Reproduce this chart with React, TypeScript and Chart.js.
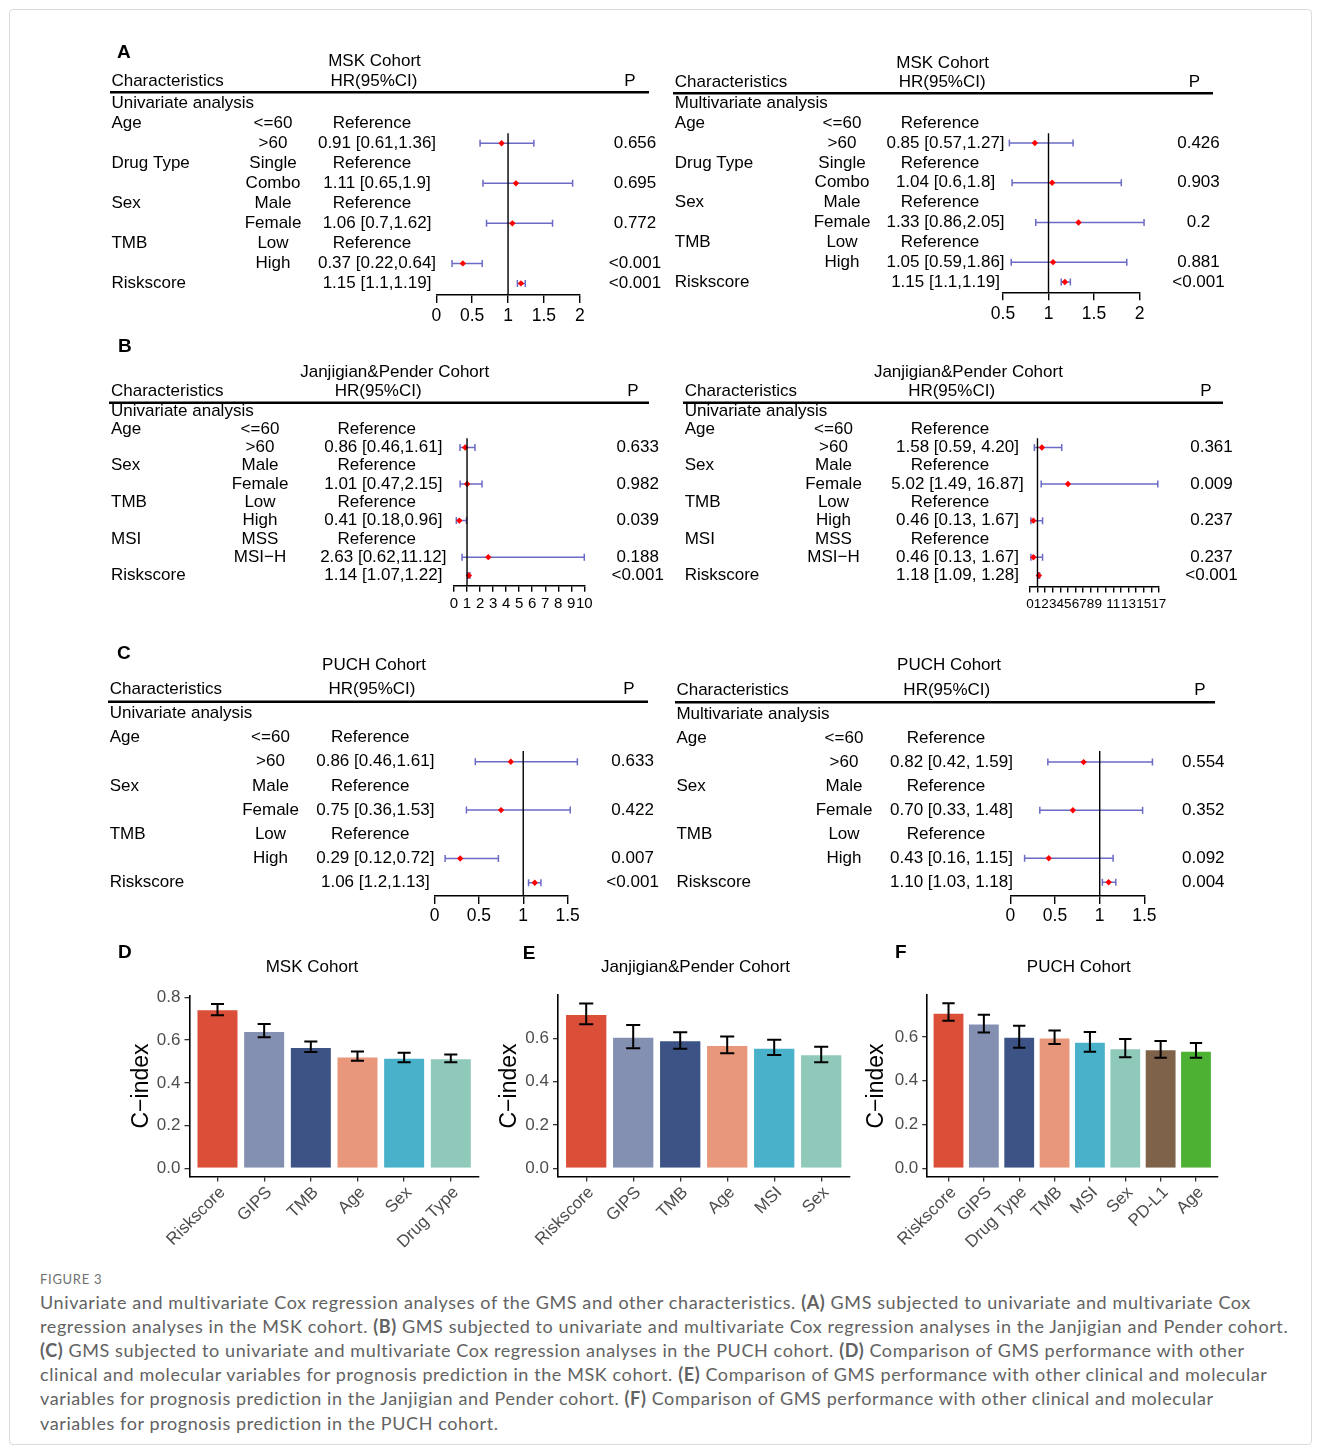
import React, { useEffect, useRef } from "react";
import { Chart, registerables } from "chart.js";

Chart.register(...registerables);

const FONT = '"Liberation Sans", Arial, Helvetica, sans-serif';
const CI_COLOR = "#6B6BC6";
const DOT_COLOR = "#FF0000";

// ================= Panel A : MSK cohort =================
const MSK_CHAR = ["Age", "", "Drug Type", "", "Sex", "", "TMB", "", "Riskscore"];
const MSK_SUB = ["<=60", ">60", "Single", "Combo", "Male", "Female", "Low", "High", ""];
const MSK_UNI_TXT = ["Reference", "0.91 [0.61,1.36]", "Reference", "1.11 [0.65,1.9]", "Reference", "1.06 [0.7,1.62]", "Reference", "0.37 [0.22,0.64]", "1.15 [1.1,1.19]"];
const MSK_UNI_P = ["", "0.656", "", "0.695", "", "0.772", "", "<0.001", "<0.001"];
const MSK_UNI_HR = [null, 0.91, null, 1.11, null, 1.06, null, 0.37, 1.18];
const MSK_UNI_LO = [null, 0.61, null, 0.65, null, 0.7, null, 0.22, 1.13];
const MSK_UNI_HI = [null, 1.36, null, 1.9, null, 1.62, null, 0.64, 1.24];
const MSK_UNI_TICKS = [0, 0.5, 1, 1.5, 2];
const MSK_UNI_TICK_LABELS = ["0", "0.5", "1", "1.5", "2"];

const MSK_MULTI_TXT = ["Reference", "0.85 [0.57,1.27]", "Reference", "1.04 [0.6,1.8]", "Reference", "1.33 [0.86,2.05]", "Reference", "1.05 [0.59,1.86]", "1.15 [1.1,1.19]"];
const MSK_MULTI_P = ["", "0.426", "", "0.903", "", "0.2", "", "0.881", "<0.001"];
const MSK_MULTI_HR = [null, 0.85, null, 1.04, null, 1.33, null, 1.05, 1.18];
const MSK_MULTI_LO = [null, 0.57, null, 0.6, null, 0.86, null, 0.59, 1.14];
const MSK_MULTI_HI = [null, 1.27, null, 1.8, null, 2.05, null, 1.86, 1.24];
const MSK_MULTI_TICKS = [0.5, 1, 1.5, 2];
const MSK_MULTI_TICK_LABELS = ["0.5", "1", "1.5", "2"];

// ================= Panel B : Janjigian & Pender cohort =================
const JP_CHAR = ["Age", "", "Sex", "", "TMB", "", "MSI", "", "Riskscore"];
const JP_SUB = ["<=60", ">60", "Male", "Female", "Low", "High", "MSS", "MSI\u2212H", ""];
const JP_L_TXT = ["Reference", "0.86 [0.46,1.61]", "Reference", "1.01 [0.47,2.15]", "Reference", "0.41 [0.18,0.96]", "Reference", "2.63 [0.62,11.12]", "1.14 [1.07,1.22]"];
const JP_L_P = ["", "0.633", "", "0.982", "", "0.039", "", "0.188", "<0.001"];
const JP_L_HR = [null, 0.86, null, 1.01, null, 0.41, null, 2.63, 1.14];
const JP_L_LO = [null, 0.46, null, 0.47, null, 0.18, null, 0.62, 1.07];
const JP_L_HI = [null, 1.61, null, 2.15, null, 0.96, null, 11.12, 1.22];
const JP_L_TICKS = [0, 1, 2, 3, 4, 5, 6, 7, 8, 9, 10];
const JP_L_TICK_LABELS = ["0", "1", "2", "3", "4", "5", "6", "7", "8", "9", "10"];

const JP_R_TXT = ["Reference", "1.58 [0.59, 4.20]", "Reference", "5.02 [1.49, 16.87]", "Reference", "0.46 [0.13, 1.67]", "Reference", "0.46 [0.13, 1.67]", "1.18 [1.09, 1.28]"];
const JP_R_P = ["", "0.361", "", "0.009", "", "0.237", "", "0.237", "<0.001"];
const JP_R_HR = [null, 1.58, null, 5.02, null, 0.46, null, 0.46, 1.18];
const JP_R_LO = [null, 0.59, null, 1.49, null, 0.13, null, 0.13, 1.09];
const JP_R_HI = [null, 4.2, null, 16.87, null, 1.67, null, 1.67, 1.28];
const JP_R_TICKS = [0, 1, 2, 3, 4, 5, 6, 7, 8, 9, 10, 11, 12, 13, 14, 15, 16, 17];
const JP_R_TICK_LABELS = ["0", "1", "2", "3", "4", "5", "6", "7", "8", "9", "", "11", "", "13", "", "15", "", "17"];

// ================= Panel C : PUCH cohort =================
const PUCH_CHAR = ["Age", "", "Sex", "", "TMB", "", "Riskscore"];
const PUCH_SUB = ["<=60", ">60", "Male", "Female", "Low", "High", ""];
const PUCH_UNI_TXT = ["Reference", "0.86 [0.46,1.61]", "Reference", "0.75 [0.36,1.53]", "Reference", "0.29 [0.12,0.72]", "1.06 [1.2,1.13]"];
const PUCH_UNI_P = ["", "0.633", "", "0.422", "", "0.007", "<0.001"];
const PUCH_UNI_HR = [null, 0.86, null, 0.75, null, 0.29, 1.13];
const PUCH_UNI_LO = [null, 0.46, null, 0.36, null, 0.12, 1.06];
const PUCH_UNI_HI = [null, 1.61, null, 1.53, null, 0.72, 1.2];
const PUCH_MULTI_TXT = ["Reference", "0.82 [0.42, 1.59]", "Reference", "0.70 [0.33, 1.48]", "Reference", "0.43 [0.16, 1.15]", "1.10 [1.03, 1.18]"];
const PUCH_MULTI_P = ["", "0.554", "", "0.352", "", "0.092", "0.004"];
const PUCH_MULTI_HR = [null, 0.82, null, 0.7, null, 0.43, 1.1];
const PUCH_MULTI_LO = [null, 0.42, null, 0.33, null, 0.16, 1.03];
const PUCH_MULTI_HI = [null, 1.59, null, 1.48, null, 1.15, 1.18];
const PUCH_TICKS = [0, 0.5, 1, 1.5];
const PUCH_TICK_LABELS = ["0", "0.5", "1", "1.5"];

// ================= Panels D/E/F : C-index bars =================
const D_CATS = ["Riskscore", "GIPS", "TMB", "Age", "Sex", "Drug Type"];
const D_VAL = [0.744, 0.643, 0.568, 0.524, 0.518, 0.515];
const D_LO = [0.716, 0.613, 0.544, 0.503, 0.496, 0.497];
const D_HI = [0.769, 0.675, 0.594, 0.547, 0.541, 0.533];

const E_CATS = ["Riskscore", "GIPS", "TMB", "Age", "MSI", "Sex"];
const E_VAL = [0.712, 0.607, 0.591, 0.569, 0.557, 0.526];
const E_LO = [0.665, 0.554, 0.552, 0.531, 0.523, 0.49];
const E_HI = [0.761, 0.661, 0.628, 0.609, 0.594, 0.561];

const F_CATS = ["Riskscore", "GIPS", "Drug Type", "TMB", "MSI", "Sex", "PD-L1", "Age"];
const F_VAL = [0.711, 0.662, 0.601, 0.598, 0.578, 0.548, 0.544, 0.537];
const F_LO = [0.674, 0.621, 0.551, 0.568, 0.533, 0.507, 0.505, 0.505];
const F_HI = [0.754, 0.702, 0.651, 0.63, 0.623, 0.591, 0.582, 0.572];

const BAR_COLORS = ["#DB4E37", "#8490B1", "#3D5385", "#E8977B", "#49B1CA", "#8FC9BA", "#7E6249", "#4DB133"];
const Y_TICKS_D = [0, 0.2, 0.4, 0.6, 0.8];
const Y_TICKS_EF = [0, 0.2, 0.4, 0.6];

// ================= helpers =================
function drawText(
  ctx: CanvasRenderingContext2D,
  s: string,
  x: number,
  y: number,
  align: CanvasTextAlign,
  size: number,
  opts: { bold?: boolean; color?: string; rotate?: number } = {}
) {
  ctx.save();
  ctx.font = `${opts.bold ? "bold " : ""}${size}px ${FONT}`;
  ctx.fillStyle = opts.color || "#000";
  ctx.textAlign = align;
  ctx.textBaseline = "middle";
  if (opts.rotate) {
    ctx.translate(x, y);
    ctx.rotate(opts.rotate);
    ctx.fillText(s, 0, 0);
  } else {
    ctx.fillText(s, x, y);
  }
  ctx.restore();
}

type Txt = { text: string; x: number; y: number };

interface ForestCfg {
  box: number[];
  area: number[];
  rowMin: number;
  rowMax: number;
  xMin: number;
  xMax: number;
  ticks: number[];
  tickLabels: string[];
  tickFont: number;
  tickLen: number;
  tickPad: number;
  letter?: Txt;
  title: Txt;
  headY: number;
  charX: number;
  hrHeadX: number;
  pHeadX: number;
  line: number[];
  analysis: string;
  subX: number;
  hrX: number;
  refOffset: number;
  pX: number;
  chars: string[];
  subs: string[];
  hrText: string[];
  pText: string[];
  hr: (number | null)[];
  lo: (number | null)[];
  hi: (number | null)[];
  clampHi?: boolean;
}

const FORESTS: ForestCfg[] = [
  {
    box: [100, 40, 565, 290], area: [436.3, 579.8, 133.3, 295], rowMin: 1.5, rowMax: 9.58,
    xMin: 0, xMax: 2, ticks: MSK_UNI_TICKS, tickLabels: MSK_UNI_TICK_LABELS, tickFont: 17.5, tickLen: 8, tickPad: 3,
    letter: { text: "A", x: 117, y: 53 }, title: { text: "MSK Cohort", x: 374.5, y: 61.5 },
    headY: 81.7, charX: 111.4, hrHeadX: 374, pHeadX: 630, line: [110, 649, 92.3],
    analysis: "Univariate analysis", subX: 273, hrX: 377, refOffset: -5, pX: 635,
    chars: MSK_CHAR, subs: MSK_SUB, hrText: MSK_UNI_TXT, pText: MSK_UNI_P,
    hr: MSK_UNI_HR, lo: MSK_UNI_LO, hi: MSK_UNI_HI,
  },
  {
    box: [665, 40, 570, 290], area: [1003, 1139.5, 133.3, 292.3], rowMin: 1.51, rowMax: 9.52,
    xMin: 0.5, xMax: 2, ticks: MSK_MULTI_TICKS, tickLabels: MSK_MULTI_TICK_LABELS, tickFont: 17.5, tickLen: 8, tickPad: 3,
    title: { text: "MSK Cohort", x: 942.6, y: 63.3 },
    headY: 82.7, charX: 674.8, hrHeadX: 942.2, pHeadX: 1194.3, line: [673, 1213, 93.3],
    analysis: "Multivariate analysis", subX: 842, hrX: 945.5, refOffset: -5.5, pX: 1198.5,
    chars: MSK_CHAR, subs: MSK_SUB, hrText: MSK_MULTI_TXT, pText: MSK_MULTI_P,
    hr: MSK_MULTI_HR, lo: MSK_MULTI_LO, hi: MSK_MULTI_HI,
  },
  {
    box: [100, 335, 570, 285], area: [454, 584.3, 438.3, 585.7], rowMin: 1.5, rowMax: 9.56,
    xMin: 0, xMax: 10, ticks: JP_L_TICKS, tickLabels: JP_L_TICK_LABELS, tickFont: 15, tickLen: 6, tickPad: 3,
    letter: { text: "B", x: 118, y: 346.7 }, title: { text: "Janjigian&Pender Cohort", x: 394.7, y: 372.7 },
    headY: 391, charX: 111, hrHeadX: 378.2, pHeadX: 632.8, line: [109, 649, 402.7],
    analysis: "Univariate analysis", subX: 260, hrX: 383.3, refOffset: -6.5, pX: 637.7,
    chars: JP_CHAR, subs: JP_SUB, hrText: JP_L_TXT, pText: JP_L_P,
    hr: JP_L_HR, lo: JP_L_LO, hi: JP_L_HI, clampHi: true,
  },
  {
    box: [675, 335, 565, 285], area: [1029.9, 1158.8, 438.3, 586.5], rowMin: 1.5, rowMax: 9.6,
    xMin: 0, xMax: 17, ticks: JP_R_TICKS, tickLabels: JP_R_TICK_LABELS, tickFont: 13.5, tickLen: 6, tickPad: 4,
    title: { text: "Janjigian&Pender Cohort", x: 968.4, y: 372.7 },
    headY: 391, charX: 684.7, hrHeadX: 951.6, pHeadX: 1206, line: [683, 1223, 402.7],
    analysis: "Univariate analysis", subX: 833.5, hrX: 957.5, refOffset: -7.5, pX: 1211.5,
    chars: JP_CHAR, subs: JP_SUB, hrText: JP_R_TXT, pText: JP_R_P,
    hr: JP_R_HR, lo: JP_R_LO, hi: JP_R_HI,
  },
  {
    box: [100, 640, 565, 290], area: [434.5, 567.6, 751, 896], rowMin: 1.558, rowMax: 7.55,
    xMin: 0, xMax: 1.5, ticks: PUCH_TICKS, tickLabels: PUCH_TICK_LABELS, tickFont: 17.5, tickLen: 8, tickPad: 2,
    letter: { text: "C", x: 117, y: 654 }, title: { text: "PUCH Cohort", x: 374, y: 665 },
    headY: 689, charX: 109.7, hrHeadX: 372, pHeadX: 629, line: [108, 648, 701.7],
    analysis: "Univariate analysis", subX: 270.5, hrX: 375.3, refOffset: -5, pX: 632.6,
    chars: PUCH_CHAR, subs: PUCH_SUB, hrText: PUCH_UNI_TXT, pText: PUCH_UNI_P,
    hr: PUCH_UNI_HR, lo: PUCH_UNI_LO, hi: PUCH_UNI_HI,
  },
  {
    box: [665, 640, 565, 290], area: [1010.3, 1144.4, 751, 896], rowMin: 1.538, rowMax: 7.57,
    xMin: 0, xMax: 1.5, ticks: PUCH_TICKS, tickLabels: PUCH_TICK_LABELS, tickFont: 17.5, tickLen: 8, tickPad: 2,
    title: { text: "PUCH Cohort", x: 949, y: 665.7 },
    headY: 690, charX: 676.4, hrHeadX: 946.8, pHeadX: 1199.9, line: [675, 1215, 702.3],
    analysis: "Multivariate analysis", subX: 844, hrX: 951.5, refOffset: -5.6, pX: 1203.3,
    chars: PUCH_CHAR, subs: PUCH_SUB, hrText: PUCH_MULTI_TXT, pText: PUCH_MULTI_P,
    hr: PUCH_MULTI_HR, lo: PUCH_MULTI_LO, hi: PUCH_MULTI_HI,
  },
];

interface BarCfg {
  box: number[];
  area: number[];
  cats: string[];
  values: number[];
  lo: number[];
  hi: number[];
  yTicks: number[];
  letter: Txt;
  title: Txt;
  yTitleX: number;
  cap: number;
}

const BARS: BarCfg[] = [
  {
    box: [110, 940, 380, 320], area: [189.5, 478.8, 995.8, 1176.6],
    cats: D_CATS, values: D_VAL, lo: D_LO, hi: D_HI, yTicks: Y_TICKS_D,
    letter: { text: "D", x: 118, y: 953 }, title: { text: "MSK Cohort", x: 312, y: 967.5 }, yTitleX: 142, cap: 0.28,
  },
  {
    box: [490, 940, 380, 320], area: [558, 849.4, 995.2, 1176.6],
    cats: E_CATS, values: E_VAL, lo: E_LO, hi: E_HI, yTicks: Y_TICKS_EF,
    letter: { text: "E", x: 522.7, y: 954 }, title: { text: "Janjigian&Pender Cohort", x: 695.4, y: 967.7 }, yTitleX: 509.5, cap: 0.3,
  },
  {
    box: [860, 940, 370, 320], area: [927.3, 1217.2, 995, 1176.6],
    cats: F_CATS, values: F_VAL, lo: F_LO, hi: F_HI, yTicks: Y_TICKS_EF,
    letter: { text: "F", x: 895, y: 953 }, title: { text: "PUCH Cohort", x: 1078.8, y: 967 }, yTitleX: 877, cap: 0.35,
  },
];

// ================= components =================
function ForestPanel({ cfg }: { cfg: ForestCfg }) {
  const ref = useRef<HTMLCanvasElement>(null);
  useEffect(() => {
    const [bl, bt, bw, bh] = cfg.box;
    const [al, ar, at, ab] = cfg.area;
    const AXIS_H = 30;
    const ox = bl;
    const oy = bt;
    const points = cfg.hr
      .map((h, i) => (h == null ? null : { x: h, y: i + 1 }))
      .filter((p) => p !== null);

    const decor = {
      id: "forestDecor",
      beforeDatasetsDraw(chart: any) {
        const ctx = chart.ctx;
        const xs = chart.scales.x;
        const ys = chart.scales.y;
        ctx.save();
        ctx.strokeStyle = CI_COLOR;
        ctx.lineWidth = 1.5;
        cfg.hr.forEach((h, i) => {
          if (h == null) return;
          const y = ys.getPixelForValue(i + 1);
          let hiV = cfg.hi[i] as number;
          if (cfg.clampHi) hiV = Math.min(hiV, cfg.xMax);
          const x1 = xs.getPixelForValue(cfg.lo[i] as number);
          const x2 = xs.getPixelForValue(hiV);
          ctx.beginPath();
          ctx.moveTo(x1, y);
          ctx.lineTo(x2, y);
          ctx.moveTo(x1, y - 3.5);
          ctx.lineTo(x1, y + 3.5);
          ctx.moveTo(x2, y - 3.5);
          ctx.lineTo(x2, y + 3.5);
          ctx.stroke();
        });
        ctx.restore();
      },
      afterDraw(chart: any) {
        const ctx = chart.ctx;
        const ys = chart.scales.y;
        const S = 17;
        if (cfg.letter) drawText(ctx, cfg.letter.text, cfg.letter.x - ox, cfg.letter.y - oy, "left", 19, { bold: true });
        drawText(ctx, cfg.title.text, cfg.title.x - ox, cfg.title.y - oy, "center", S);
        drawText(ctx, "Characteristics", cfg.charX - ox, cfg.headY - oy, "left", S);
        drawText(ctx, "HR(95%CI)", cfg.hrHeadX - ox, cfg.headY - oy, "center", S);
        drawText(ctx, "P", cfg.pHeadX - ox, cfg.headY - oy, "center", S);
        ctx.save();
        ctx.strokeStyle = "#000";
        ctx.lineWidth = 2.5;
        ctx.beginPath();
        ctx.moveTo(cfg.line[0] - ox, cfg.line[2] - oy);
        ctx.lineTo(cfg.line[1] - ox, cfg.line[2] - oy);
        ctx.stroke();
        ctx.restore();
        drawText(ctx, cfg.analysis, cfg.charX - ox, ys.getPixelForValue(0), "left", S);
        cfg.chars.forEach((c, i) => {
          const y = ys.getPixelForValue(i + 1);
          if (c) drawText(ctx, c, cfg.charX - ox, y, "left", S);
          if (cfg.subs[i]) drawText(ctx, cfg.subs[i], cfg.subX - ox, y, "center", S);
          const h = cfg.hrText[i];
          if (h) drawText(ctx, h, cfg.hrX - ox + (h === "Reference" ? cfg.refOffset : 0), y, "center", S);
          if (cfg.pText[i]) drawText(ctx, cfg.pText[i], cfg.pX - ox, y, "center", S);
        });
      },
    };

    const chart = new Chart(ref.current as HTMLCanvasElement, {
      type: "scatter",
      data: {
        datasets: [
          {
            data: [
              { x: 1, y: cfg.rowMin },
              { x: 1, y: cfg.rowMax },
            ],
            showLine: true,
            borderColor: "#000",
            borderWidth: 1.4,
            pointRadius: 0,
            clip: false,
          } as any,
          {
            data: points as any,
            pointStyle: "rectRot",
            pointRadius: 3.2,
            backgroundColor: DOT_COLOR,
            borderColor: DOT_COLOR,
            borderWidth: 0,
            clip: false,
          } as any,
        ],
      },
      options: {
        responsive: false,
        animation: false,
        devicePixelRatio: 1,
        events: [],
        layout: {
          padding: { left: al - bl, right: bl + bw - ar, top: at - bt, bottom: bt + bh - ab - AXIS_H },
        },
        plugins: { legend: { display: false }, tooltip: { enabled: false } },
        scales: {
          x: {
            type: "linear",
            position: "bottom",
            min: cfg.xMin,
            max: cfg.xMax,
            afterBuildTicks: (s: any) => {
              s.ticks = cfg.ticks.map((v) => ({ value: v }));
            },
            afterFit: (s: any) => {
              s.height = AXIS_H;
            },
            grid: {
              display: true,
              drawOnChartArea: false,
              drawTicks: true,
              tickLength: cfg.tickLen,
              color: "#000",
              tickColor: "#000",
              lineWidth: 1.4,
            },
            border: { display: true, color: "#000", width: 1.4 },
            ticks: {
              autoSkip: false,
              maxRotation: 0,
              minRotation: 0,
              padding: cfg.tickPad,
              color: "#000",
              font: { family: FONT, size: cfg.tickFont },
              callback: (v: any) => {
                const k = cfg.ticks.indexOf(Number(v));
                return k >= 0 ? cfg.tickLabels[k] : "";
              },
            },
          },
          y: { type: "linear", display: false, min: cfg.rowMin, max: cfg.rowMax, reverse: true },
        },
      } as any,
      plugins: [decor],
    });
    return () => chart.destroy();
  }, [cfg]);
  const [bl, bt, bw, bh] = cfg.box;
  return (
    <canvas
      ref={ref}
      width={bw}
      height={bh}
      style={{ position: "absolute", left: bl, top: bt, width: bw, height: bh }}
    />
  );
}

function BarPanel({ cfg }: { cfg: BarCfg }) {
  const ref = useRef<HTMLCanvasElement>(null);
  useEffect(() => {
    const [bl, bt, bw, bh] = cfg.box;
    const [al, ar, at, ab] = cfg.area;
    const X_H = 80;
    const Y_W = 50;
    const n = cfg.cats.length;
    const top = Math.max(...cfg.hi);
    const yMax = top * 1.05;
    const yMin = -top * 0.05;

    const decor = {
      id: "barDecor",
      afterDatasetsDraw(chart: any) {
        const ctx = chart.ctx;
        const xs = chart.scales.x;
        const ys = chart.scales.y;
        const half = xs.getPixelForValue(1 + cfg.cap / 2) - xs.getPixelForValue(1);
        ctx.save();
        ctx.strokeStyle = "#000";
        ctx.lineWidth = 2;
        cfg.values.forEach((_, i) => {
          const x = xs.getPixelForValue(i + 1);
          const y1 = ys.getPixelForValue(cfg.lo[i]);
          const y2 = ys.getPixelForValue(cfg.hi[i]);
          ctx.beginPath();
          ctx.moveTo(x, y1);
          ctx.lineTo(x, y2);
          ctx.moveTo(x - half, y1);
          ctx.lineTo(x + half, y1);
          ctx.moveTo(x - half, y2);
          ctx.lineTo(x + half, y2);
          ctx.stroke();
        });
        ctx.restore();
      },
      afterDraw(chart: any) {
        const ctx = chart.ctx;
        drawText(ctx, cfg.letter.text, cfg.letter.x - bl, cfg.letter.y - bt, "left", 19, { bold: true });
        drawText(ctx, cfg.title.text, cfg.title.x - bl, cfg.title.y - bt, "center", 17);
        drawText(ctx, "C\u2212index", cfg.yTitleX - bl, 1086 - bt, "center", 23, { rotate: -Math.PI / 2 });
      },
    };

    const chart = new Chart(ref.current as HTMLCanvasElement, {
      type: "bar",
      data: {
        datasets: [
          {
            data: cfg.values.map((v, i) => ({ x: i + 1, y: v })) as any,
            backgroundColor: BAR_COLORS.slice(0, n),
            borderColor: "rgba(255,255,255,0.85)",
            borderWidth: 1,
            barPercentage: 0.9,
            categoryPercentage: 1,
          },
        ],
      },
      options: {
        responsive: false,
        animation: false,
        devicePixelRatio: 1,
        events: [],
        layout: {
          padding: { left: al - bl - Y_W, right: bl + bw - ar, top: at - bt, bottom: bt + bh - ab - X_H },
        },
        plugins: { legend: { display: false }, tooltip: { enabled: false } },
        scales: {
          x: {
            type: "linear",
            offset: false,
            min: 0.4,
            max: n + 0.6,
            afterBuildTicks: (s: any) => {
              s.ticks = cfg.cats.map((_, i) => ({ value: i + 1 }));
            },
            afterFit: (s: any) => {
              s.height = X_H;
            },
            grid: {
              display: true,
              offset: false,
              drawOnChartArea: false,
              tickLength: 5,
              color: "#333",
              tickColor: "#333",
              lineWidth: 1.3,
            },
            border: { display: true, color: "#000", width: 1.6 },
            ticks: {
              autoSkip: false,
              minRotation: 45,
              maxRotation: 45,
              padding: 1,
              labelOffset: 5,
              color: "#4D4D4D",
              font: { family: FONT, size: 17 },
              callback: (v: any) => cfg.cats[Math.round(Number(v)) - 1] || "",
            },
          },
          y: {
            type: "linear",
            min: yMin,
            max: yMax,
            afterBuildTicks: (s: any) => {
              s.ticks = cfg.yTicks.map((v) => ({ value: v }));
            },
            afterFit: (s: any) => {
              s.width = Y_W;
            },
            grid: {
              display: true,
              drawOnChartArea: false,
              tickLength: 5,
              color: "#333",
              tickColor: "#333",
              lineWidth: 1.3,
            },
            border: { display: true, color: "#000", width: 1.6 },
            ticks: {
              padding: 4,
              color: "#4D4D4D",
              font: { family: FONT, size: 17 },
              callback: (v: any) => Number(v).toFixed(1),
            },
          },
        },
      } as any,
      plugins: [decor],
    });
    return () => chart.destroy();
  }, [cfg]);
  const [bl, bt, bw, bh] = cfg.box;
  return (
    <canvas
      ref={ref}
      width={bw}
      height={bh}
      style={{ position: "absolute", left: bl, top: bt, width: bw, height: bh }}
    />
  );
}

const CAPTION_LINES: (string | { b: string })[][] = [
  ["Univariate and multivariate Cox regression analyses of the GMS and other characteristics. ", { b: "(A)" }, " GMS subjected to univariate and multivariate Cox"],
  ["regression analyses in the MSK cohort. ", { b: "(B)" }, " GMS subjected to univariate and multivariate Cox regression analyses in the Janjigian and Pender cohort."],
  [{ b: "(C)" }, " GMS subjected to univariate and multivariate Cox regression analyses in the PUCH cohort. ", { b: "(D)" }, " Comparison of GMS performance with other"],
  ["clinical and molecular variables for prognosis prediction in the MSK cohort. ", { b: "(E)" }, " Comparison of GMS performance with other clinical and molecular"],
  ["variables for prognosis prediction in the Janjigian and Pender cohort. ", { b: "(F)" }, " Comparison of GMS performance with other clinical and molecular"],
  ["variables for prognosis prediction in the PUCH cohort."],
];

export default function App() {
  return (
    <div style={{ position: "absolute", left: 0, top: 0, width: 1322, height: 1453, background: "#fff", overflow: "hidden" }}>
      <div
        style={{
          position: "absolute",
          left: 9,
          top: 9,
          width: 1303,
          height: 1436,
          border: "1px solid #dcdcdc",
          borderRadius: 4,
          boxSizing: "border-box",
        }}
      />
      {FORESTS.map((f, i) => (
        <ForestPanel key={"f" + i} cfg={f} />
      ))}
      {BARS.map((b, i) => (
        <BarPanel key={"b" + i} cfg={b} />
      ))}
      <div
        style={{
          position: "absolute",
          left: 40,
          top: 1271,
          lineHeight: "16px",
          fontFamily: "Lato, sans-serif",
          fontSize: 13,
          color: "#707070",
          letterSpacing: 0.7,
          whiteSpace: "nowrap",
        }}
      >
        FIGURE 3
      </div>
      {CAPTION_LINES.map((line, i) => (
        <div
          key={"c" + i}
          style={{
            position: "absolute",
            left: 40,
            top: 1290 + i * 24.1,
            lineHeight: "24px",
            fontFamily: "Lato, sans-serif",
            fontSize: 18,
            letterSpacing: 0.6,
            color: "#626262",
            whiteSpace: "nowrap",
          }}
        >
          {line.map((seg, j) =>
            typeof seg === "string" ? (
              <span key={j}>{seg}</span>
            ) : (
              <b key={j} style={{ fontWeight: 700 }}>
                {seg.b}
              </b>
            )
          )}
        </div>
      ))}
    </div>
  );
}
